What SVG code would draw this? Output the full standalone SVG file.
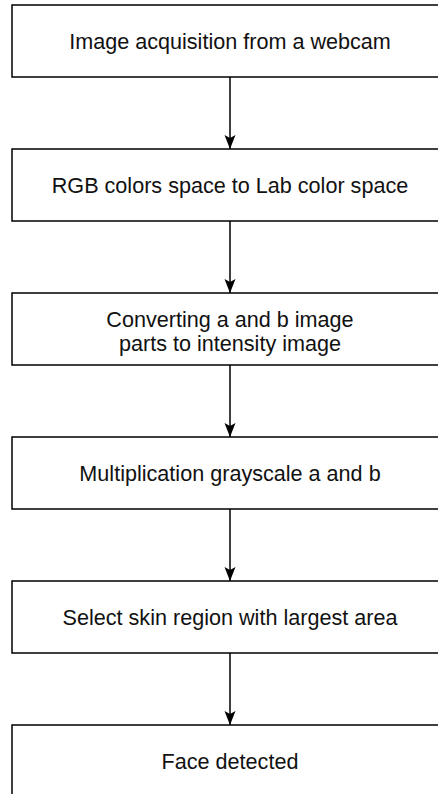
<svg xmlns="http://www.w3.org/2000/svg" width="438" height="794" viewBox="0 0 438 794">
  <style>
    .box { fill: #ffffff; stroke: #000000; stroke-width: 1.5; }
    .label { font-family: "Liberation Sans", Arial, sans-serif; font-size: 21.6px; fill: #111111; text-anchor: middle; }
    .edge { fill: none; stroke: #000000; stroke-width: 1.5; }
  </style>
  <defs>
    <!-- classic filled arrowhead, tip sits on the target box edge -->
    <marker id="arrowhead" viewBox="0 0 14 12" refX="14" refY="6" markerWidth="14" markerHeight="12" markerUnits="userSpaceOnUse" orient="auto">
      <path d="M0,0.5 L14,6 L0,11.5 L3,6 z" fill="#000000"/>
    </marker>
  </defs>
  <rect width="438" height="794" fill="#ffffff"/>

  <g id="connectors">
    <path class="edge" d="M230,77 V149" marker-end="url(#arrowhead)"/>
    <path class="edge" d="M230,221 V293" marker-end="url(#arrowhead)"/>
    <path class="edge" d="M230,365 V437" marker-end="url(#arrowhead)"/>
    <path class="edge" d="M230,509 V581" marker-end="url(#arrowhead)"/>
    <path class="edge" d="M230,653 V725" marker-end="url(#arrowhead)"/>
  </g>

  <g id="acquisition">
    <rect class="box" x="12" y="5" width="436" height="72"/>
    <text class="label" x="230" y="49">Image acquisition from a webcam</text>
  </g>
  <g id="rgb-to-lab">
    <rect class="box" x="12" y="149" width="436" height="72"/>
    <text class="label" x="230" y="193">RGB colors space to Lab color space</text>
  </g>
  <g id="intensity">
    <rect class="box" x="12" y="293" width="436" height="72"/>
    <text class="label" x="230" y="327">Converting a and b image</text>
    <text class="label" x="230" y="351">parts to intensity image</text>
  </g>
  <g id="multiplication">
    <rect class="box" x="12" y="437" width="436" height="72"/>
    <text class="label" x="230" y="481">Multiplication grayscale a and b</text>
  </g>
  <g id="skin-region">
    <rect class="box" x="12" y="581" width="436" height="72"/>
    <text class="label" x="230" y="625">Select skin region with largest area</text>
  </g>
  <g id="face-detected">
    <rect class="box" x="12" y="725" width="436" height="72"/>
    <text class="label" x="230" y="769">Face detected</text>
  </g>
</svg>
